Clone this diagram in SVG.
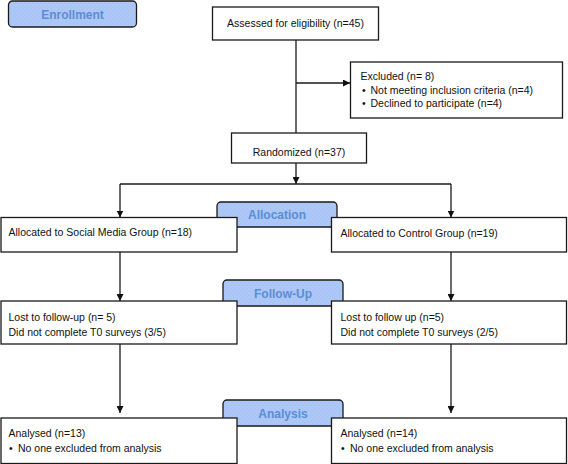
<svg xmlns="http://www.w3.org/2000/svg" width="568" height="464" viewBox="0 0 568 464">
<style>
.box{fill:#fff;stroke:#1a1a1a;stroke-width:1.3}
.lab{fill:url(#dots);stroke:#1a1a1a;stroke-width:1.3}
.t{font-family:"Liberation Sans",Arial,sans-serif;font-size:10.5px;fill:#111}
.lt{font-family:"Liberation Sans",Arial,sans-serif;font-size:12px;font-weight:bold;fill:#5b8dd4;text-anchor:middle}
.c{text-anchor:middle}
.ln{fill:none;stroke:#1a1a1a;stroke-width:1.3}
</style>
<defs>
<pattern id="dots" width="4" height="4" patternUnits="userSpaceOnUse">
<rect width="4" height="4" fill="#a9c5f7"/>
<circle cx="1" cy="1" r="0.45" fill="#e2e6d8"/>
<circle cx="3" cy="3" r="0.4" fill="#cfdcf0"/>
</pattern>
<marker id="ah" markerUnits="userSpaceOnUse" markerWidth="7" markerHeight="7" refX="7" refY="3.5" orient="auto">
<path d="M0,0 L7,3.5 L0,7 z" fill="#111"/>
</marker>
</defs>

<g id="connectors">
<path class="ln" d="M296,40 V133"/>
<path class="ln" d="M296,83 H350" marker-end="url(#ah)"/>
<path class="ln" d="M296,163 V184" marker-end="url(#ah)"/>
<path class="ln" d="M120,184 H451"/>
<path class="ln" d="M120,184 V217.5" marker-end="url(#ah)"/>
<path class="ln" d="M451,184 V217.5" marker-end="url(#ah)"/>
<path class="ln" d="M120,252 V301" marker-end="url(#ah)"/>
<path class="ln" d="M451,252 V301" marker-end="url(#ah)"/>
<path class="ln" d="M120,344 V413" marker-end="url(#ah)"/>
<path class="ln" d="M451,344 V413" marker-end="url(#ah)"/>
</g>

<g id="enrollment">
<rect class="lab" x="8.5" y="1" width="128" height="26" rx="4"/>
<text class="lt" x="72.5" y="19">Enrollment</text>
</g>

<g id="assessed">
<rect class="box" x="212.5" y="7" width="166" height="33"/>
<text class="t c" x="295.5" y="26.5">Assessed for eligibility (n=45)</text>
</g>

<g id="excluded">
<rect class="box" x="350.5" y="62" width="212" height="56"/>
<text class="t" x="360.5" y="80">Excluded  (n= 8)</text>
<text class="t" x="362" y="93.5"><tspan>•</tspan><tspan x="370.5">Not meeting inclusion criteria (n=4)</tspan></text>
<text class="t" x="362" y="107"><tspan>•</tspan><tspan x="370.5">Declined to participate (n=4)</tspan></text>
</g>

<g id="randomized">
<rect class="box" x="231.5" y="133" width="135" height="30"/>
<text class="t c" x="299" y="155.5">Randomized (n=37)</text>
</g>

<g id="allocation">
<rect class="lab" x="217" y="202" width="120" height="25" rx="4"/>
<text class="lt" x="277" y="219">Allocation</text>
</g>

<g id="alloc-social">
<rect class="box" x="1" y="217.5" width="236" height="34.5"/>
<text class="t" x="8.5" y="236">Allocated to Social Media Group (n=18)</text>
</g>

<g id="alloc-control">
<rect class="box" x="331.5" y="217.5" width="235" height="34.5"/>
<text class="t" x="340.5" y="237">Allocated to Control Group (n=19)</text>
</g>

<g id="followup">
<rect class="lab" x="223" y="280" width="120" height="26" rx="4"/>
<text class="lt" x="283" y="297.5">Follow-Up</text>
</g>

<g id="followup-social">
<rect class="box" x="1" y="301" width="236" height="43"/>
<text class="t" x="8.5" y="320.5">Lost to follow-up (n= 5)</text>
<text class="t" x="8.5" y="335.5">Did not complete T0 surveys (3/5)</text>
</g>

<g id="followup-control">
<rect class="box" x="331.5" y="301" width="235" height="43"/>
<text class="t" x="340.5" y="320.5">Lost to follow up (n=5)</text>
<text class="t" x="340.5" y="335.5">Did not complete T0 surveys (2/5)</text>
</g>

<g id="analysis">
<rect class="lab" x="223" y="400" width="120" height="26" rx="4"/>
<text class="lt" x="283" y="417.5">Analysis</text>
</g>

<g id="analysis-social">
<rect class="box" x="1" y="418" width="236" height="45.5"/>
<text class="t" x="8.5" y="436.5">Analysed  (n=13)</text>
<text class="t" x="9" y="451.5"><tspan>•</tspan><tspan x="18">No one excluded from analysis</tspan></text>
</g>

<g id="analysis-control">
<rect class="box" x="331.5" y="418" width="235" height="45.5"/>
<text class="t" x="340.5" y="436.5">Analysed  (n=14)</text>
<text class="t" x="341" y="451.5"><tspan>•</tspan><tspan x="350">No one excluded from analysis</tspan></text>
</g>
</svg>
